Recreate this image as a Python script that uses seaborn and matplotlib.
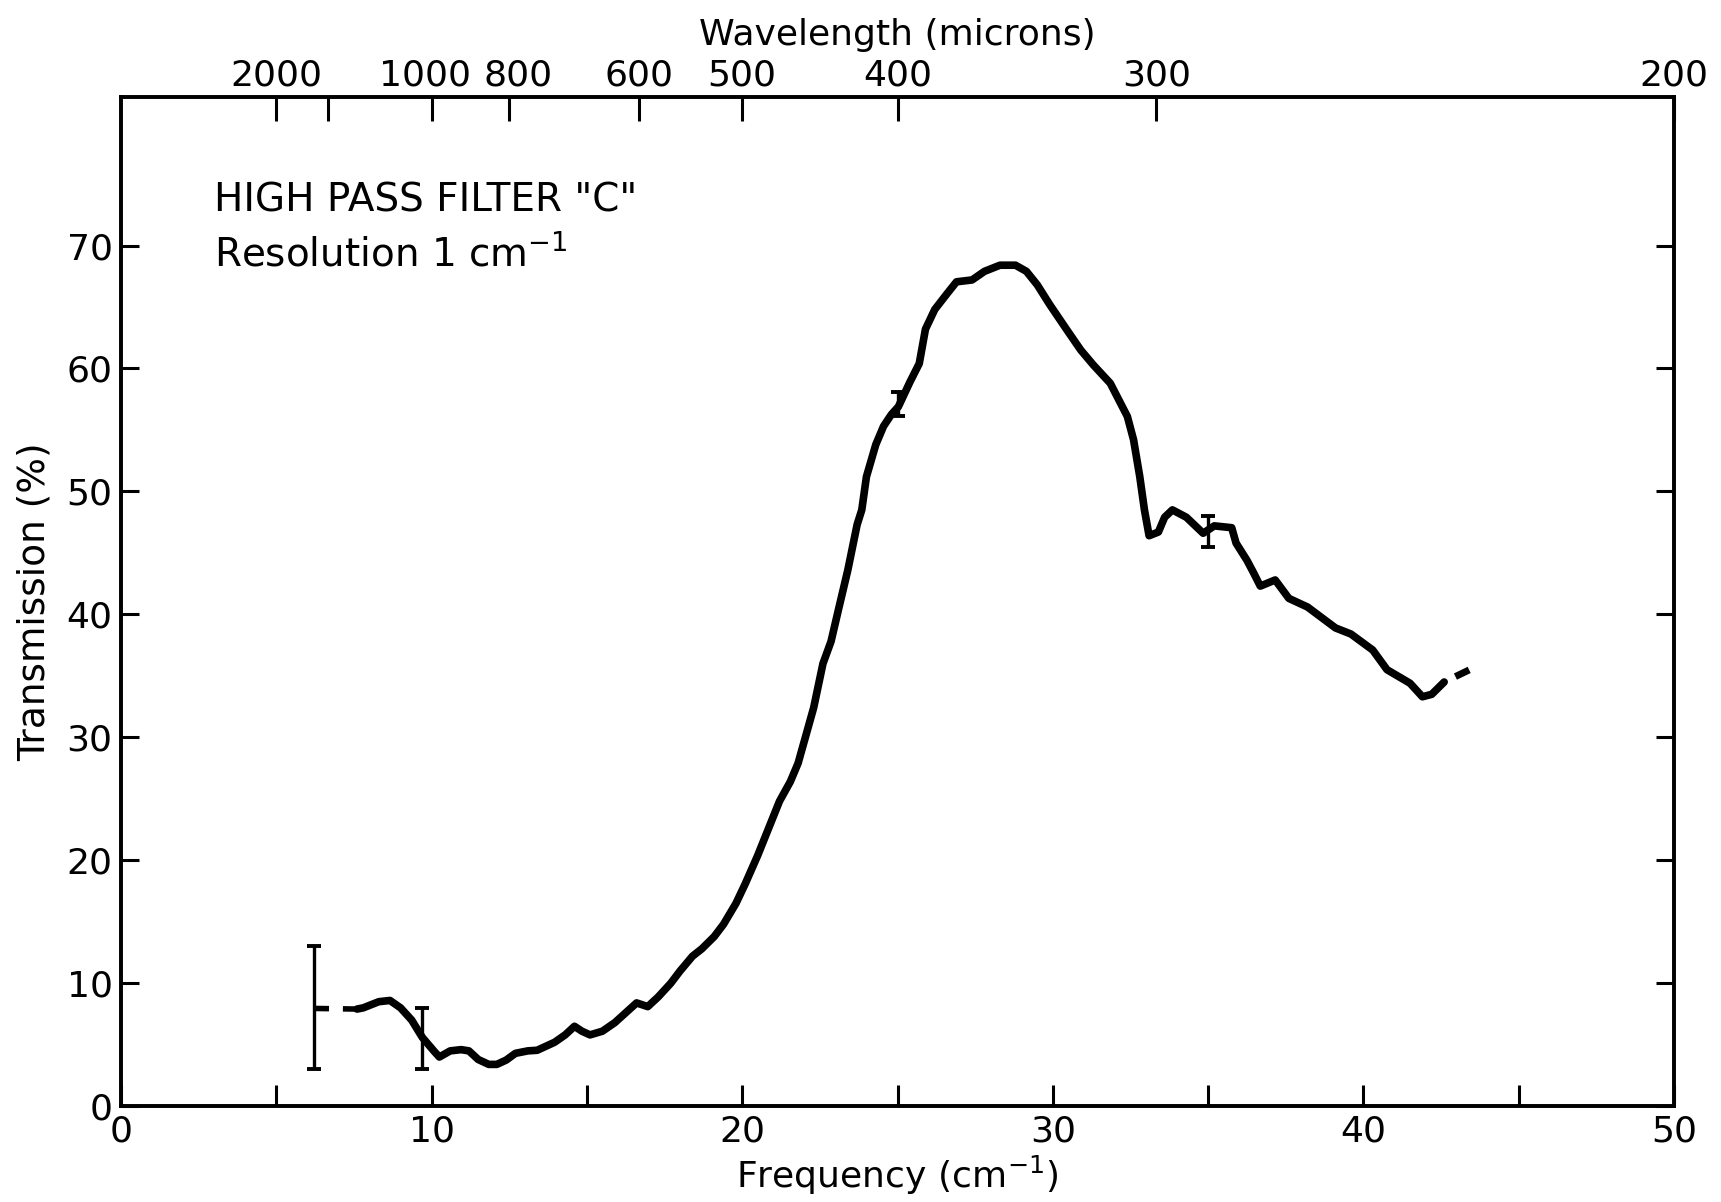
import numpy as np
import pandas as pd
import matplotlib
matplotlib.use("Agg")
import matplotlib.pyplot as plt
import matplotlib.transforms as mtransforms
import seaborn as sns

# ---- data ----
freq = [7.6, 7.8, 8.3, 8.66, 9.0, 9.36, 9.7, 10.07, 10.25, 10.6, 10.95, 11.2, 11.5,
        11.84, 12.1, 12.4, 12.7, 13.1, 13.4, 13.96, 14.3, 14.6, 14.84, 15.1, 15.5,
        15.9, 16.25, 16.6, 16.96, 17.3, 17.7, 18.0, 18.4, 18.7, 19.1, 19.4, 19.8,
        20.1, 20.5, 20.85, 21.2, 21.55, 21.8, 22.1, 22.3, 22.6, 22.86, 23.1, 23.4,
        23.7, 23.85, 24.0, 24.3, 24.55, 24.8, 25.03, 25.4, 25.7, 25.9, 26.2, 26.6,
        26.9, 27.4, 27.8, 28.3, 28.8, 29.15, 29.5, 29.9, 30.45, 30.9, 31.3, 31.85,
        32.4, 32.6, 32.8, 32.95, 33.1, 33.4, 33.6, 33.85, 34.3, 34.84, 35.2, 35.76,
        35.9, 36.25, 36.46, 36.68, 37.16, 37.6, 38.2, 39.1, 39.6, 40.3, 40.76, 41.5,
        41.9, 42.2, 42.6]
trans = [7.9, 8.0, 8.5, 8.6, 8.0, 7.0, 5.6, 4.5, 4.0, 4.5, 4.6, 4.5, 3.8,
         3.4, 3.4, 3.75, 4.3, 4.5, 4.55, 5.2, 5.8, 6.5, 6.1, 5.8, 6.1,
         6.8, 7.6, 8.4, 8.1, 8.9, 10.0, 11.0, 12.2, 12.8, 13.8, 14.8, 16.5,
         18.1, 20.4, 22.6, 24.8, 26.4, 27.9, 30.6, 32.4, 36.0, 37.8, 40.4, 43.6,
         47.3, 48.5, 51.2, 53.8, 55.3, 56.25, 56.9, 58.9, 60.4, 63.2, 64.8, 66.1,
         67.05, 67.2, 67.9, 68.4, 68.4, 67.9, 66.8, 65.2, 63.15, 61.5, 60.3, 58.8,
         56.1, 54.2, 51.2, 48.5, 46.4, 46.7, 47.9, 48.5, 47.9, 46.6, 47.2, 47.05,
         45.8, 44.4, 43.4, 42.3, 42.8, 41.3, 40.6, 38.9, 38.4, 37.1, 35.5, 34.4,
         33.3, 33.5, 34.5]

dash_left_freq = [6.25, 7.6]
dash_left_trans = [7.95, 7.9]
dash_right_freq = [42.6, 43.5]
dash_right_trans = [34.5, 35.6]

err_x = [6.2, 9.7, 25.0, 35.0]
err_lo = [3.0, 3.0, 56.1, 45.5]
err_hi = [13.0, 8.0, 58.1, 48.0]

freq_ticks = [0, 10, 20, 30, 40, 50]
freq_minor = [5, 15, 25, 35, 45]
trans_ticks = [0, 10, 20, 30, 40, 50, 60, 70]
wl_ticks = [2000, 1500, 1000, 800, 600, 500, 400, 300, 200]
wl_labels = ["2000", "", "1000", "800", "600", "500", "400", "300", "200"]

# ---- plot ----
sns.set_theme(style="ticks")
plt.rcParams["font.family"] = ["DejaVu Sans"]
plt.rcParams.update({
    "axes.linewidth": 2.6,
    "text.color": "black",
    "axes.labelcolor": "black",
    "axes.edgecolor": "black",
    "xtick.color": "black",
    "ytick.color": "black",
})

fig = plt.figure(figsize=(17.21, 12.02), dpi=100)
ax = fig.add_axes([0.0703, 0.0797, 0.9024, 0.8398])

df = pd.DataFrame({"freq": freq, "trans": trans})
sns.lineplot(data=df, x="freq", y="trans", ax=ax, color="black", linewidth=5.5,
             solid_capstyle="round", solid_joinstyle="round", sort=False)
sns.lineplot(x=dash_left_freq, y=dash_left_trans, ax=ax, color="black", linewidth=4,
             linestyle=(0, (2.5, 2.5)), sort=False)
sns.lineplot(x=dash_right_freq, y=dash_right_trans, ax=ax, color="black", linewidth=5,
             linestyle=(2.2, (2.2, 1.8)), sort=False)

centers = [(lo + hi) / 2 for lo, hi in zip(err_lo, err_hi)]
half = [(hi - lo) / 2 for lo, hi in zip(err_lo, err_hi)]
ax.errorbar(err_x, centers, yerr=half, fmt="none", ecolor="black",
            elinewidth=2.4, capsize=5, capthick=2.8)

ax.set_xlim(0, 50)
ax.set_ylim(0, 82.1)

fs = 26
ax.set_xticks(freq_ticks)
ax.set_xticks(freq_minor, minor=True)
ax.set_xticklabels([str(t) for t in freq_ticks], fontsize=fs)
ax.set_yticks(trans_ticks)
ax.set_yticklabels([str(t) for t in trans_ticks], fontsize=fs)
ax.tick_params(axis="x", which="both", direction="in", length=15, width=2.2,
               top=False, bottom=True, pad=6)
ax.tick_params(axis="y", which="both", direction="in", length=13, width=2.2,
               left=True, right=True, labelright=False, pad=6)

ax.set_xlabel("Frequency (cm$^{-1}$)", fontsize=fs, labelpad=4)
ax.set_ylabel("Transmission (%)", fontsize=fs + 1, labelpad=10)

top = ax.twiny()
top.set_xlim(ax.get_xlim())
top.set_xticks([1e4 / w for w in wl_ticks])
top.set_xticklabels(wl_labels, fontsize=fs)
top.tick_params(axis="x", direction="in", length=17, width=2.2, pad=3)
top.set_xlabel("Wavelength (microns)", fontsize=fs, labelpad=10)
for s in top.spines.values():
    s.set_linewidth(2.6)

# nudge crowded top labels apart (as in the original lettering)
nudges = {"1000": -5.0, "800": 6.0}
for lbl in top.get_xticklabels():
    dx = nudges.get(lbl.get_text())
    if dx:
        lbl.set_transform(lbl.get_transform() +
                          mtransforms.ScaledTranslation(dx / 72, 0, fig.dpi_scale_trans))

ax.text(3.0, 73.7, 'HIGH PASS FILTER "C"', fontsize=28, va="center", ha="left")
ax.text(3.0, 69.3, "Resolution 1 cm$^{-1}$", fontsize=28, va="center", ha="left")

fig.savefig("out.png", dpi=100, facecolor="white")
